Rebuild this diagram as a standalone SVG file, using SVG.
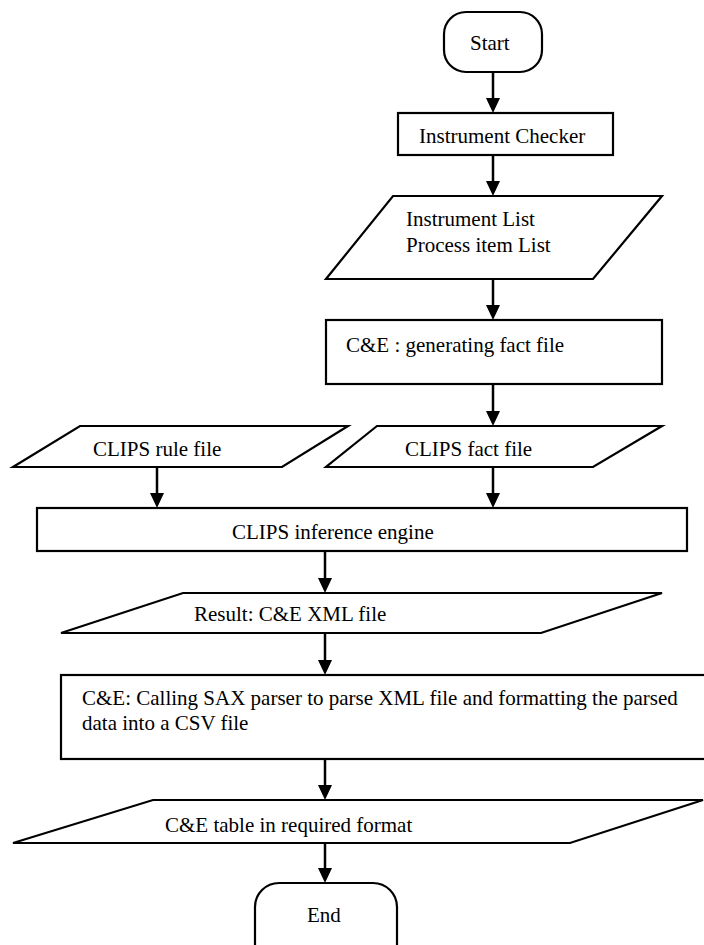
<svg xmlns="http://www.w3.org/2000/svg" width="704" height="945" viewBox="0 0 704 945">
<style>
.s{fill:#fff;stroke:#000;stroke-width:2.2}
.t{font-family:"Liberation Serif","Times New Roman",serif;font-size:21px;fill:#000}
.c{stroke:#000;stroke-width:2.5;fill:none}
</style>
<defs>
<marker id="ah" markerWidth="14" markerHeight="15" refX="7" refY="15" orient="auto-start-reverse" markerUnits="userSpaceOnUse" viewBox="0 0 14 15">
<path d="M0,0 L14,0 L7,15 Z" fill="#000" transform="rotate(0)"/>
</marker>
</defs>
<rect width="704" height="945" fill="#fff"/>
<g id="connectors">
<path class="c" d="M493,72 V98"/><path d="M486,98 H500 L493,113 Z"/>
<path class="c" d="M493,155 V181"/><path d="M486,181 H500 L493,196 Z"/>
<path class="c" d="M493,279 V305"/><path d="M486,305 H500 L493,320 Z"/>
<path class="c" d="M493,384 V411"/><path d="M486,411 H500 L493,426 Z"/>
<path class="c" d="M157,467 V493"/><path d="M150,493 H164 L157,508 Z"/>
<path class="c" d="M493,467 V493"/><path d="M486,493 H500 L493,508 Z"/>
<path class="c" d="M325,551 V578"/><path d="M318,578 H332 L325,593 Z"/>
<path class="c" d="M325,633 V660"/><path d="M318,660 H332 L325,675 Z"/>
<path class="c" d="M325,759 V785"/><path d="M318,785 H332 L325,800 Z"/>
<path class="c" d="M325,843 V868"/><path d="M318,868 H332 L325,883 Z"/>
</g>
<g id="start">
<rect class="s" x="444" y="12" width="98" height="60" rx="22" ry="22"/>
<text class="t" x="470" y="50">Start</text>
</g>
<g id="checker">
<rect class="s" x="398" y="113" width="215" height="42"/>
<text class="t" x="419" y="143">Instrument Checker</text>
</g>
<g id="lists">
<polygon class="s" points="393,196 662,196 593,279 326,279"/>
<text class="t" x="406" y="226">Instrument List</text>
<text class="t" x="406" y="252">Process item List</text>
</g>
<g id="gen">
<rect class="s" x="326" y="320" width="336" height="64"/>
<text class="t" x="346" y="352">C&amp;E : generating fact file</text>
</g>
<g id="rule">
<polygon class="s" points="80,426 348,426 282,467 13,467"/>
<text class="t" x="93" y="456">CLIPS rule file</text>
</g>
<g id="fact">
<polygon class="s" points="377,426 662,426 593,467 326,467"/>
<text class="t" x="405" y="456">CLIPS fact file</text>
</g>
<g id="engine">
<rect class="s" x="37" y="508" width="650" height="43"/>
<text class="t" x="232" y="539">CLIPS inference engine</text>
</g>
<g id="result">
<polygon class="s" points="183,593 662,593 541,633 61,633"/>
<text class="t" x="194" y="621">Result: C&amp;E XML file</text>
</g>
<g id="sax">
<rect class="s" x="61" y="675" width="645" height="84"/>
<text class="t" x="82" y="705">C&amp;E: Calling SAX parser to parse XML file and formatting the parsed</text>
<text class="t" x="82" y="730">data into a CSV file</text>
</g>
<g id="table">
<polygon class="s" points="153,800 703,800 570,843 13,843"/>
<text class="t" x="165" y="832">C&amp;E table in required format</text>
</g>
<g id="end">
<rect class="s" x="255" y="883" width="142" height="90" rx="24" ry="24"/>
<text class="t" x="307" y="922">End</text>
</g>
</svg>
